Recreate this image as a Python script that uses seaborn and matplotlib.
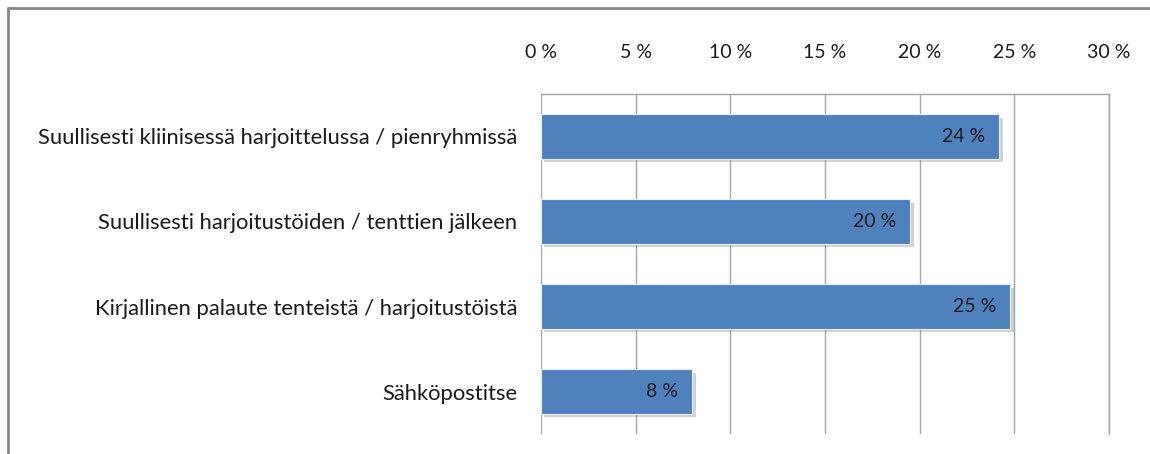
import matplotlib
matplotlib.use("Agg")
import matplotlib.pyplot as plt
import matplotlib.patheffects as pe
from matplotlib.lines import Line2D
import pandas as pd
import seaborn as sns

# data
categories = [
    "Suullisesti kliinisessä harjoittelussa / pienryhmissä",
    "Suullisesti harjoitustöiden / tenttien jälkeen",
    "Kirjallinen palaute tenteistä / harjoitustöistä",
    "Sähköpostitse",
]
values = [24.2, 19.5, 24.8, 8.0]
ticks = [0, 5, 10, 15, 20, 25, 30]
tick_labels = ["0 %", "5 %", "10 %", "15 %", "20 %", "25 %", "30 %"]

df = pd.DataFrame({"cat": categories, "val": values})

sns.set_style("white")
plt.rcParams["font.family"] = ["Lato", "DejaVu Sans"]

fig = plt.figure(figsize=(11.5, 4.54), dpi=100)
ax = fig.add_axes([0.4704, 0.044, 0.4939, 0.749])

sns.barplot(data=df, x="val", y="cat", orient="h", color="#4F81BD",
            width=0.52, saturation=1, edgecolor="#e8eef7", linewidth=0.8,
            ax=ax, zorder=3)

for bar in ax.patches:
    bar.set_path_effects([pe.SimplePatchShadow(offset=(2.5, -2.5), shadow_rgbFace="#808080", alpha=0.35),
                          pe.Normal()])

# value labels inside the bars
for i, v in enumerate(values):
    ax.text(v - 0.75, i, f"{round(v)} %", ha="right", va="center",
            fontsize=14, color="#1a1a1a", zorder=5)

ax.set_xlim(0, 30)
ax.set_ylim(3.5, -0.5)
ax.set_xticks(ticks)
ax.set_xticklabels(tick_labels)
ax.xaxis.tick_top()
ax.tick_params(axis="x", length=0, pad=24, labelsize=14, labelcolor="#1a1a1a")
ax.tick_params(axis="y", length=0, pad=17, labelsize=15.8, labelcolor="#1a1a1a")
ax.set_xlabel("")
ax.set_ylabel("")

ax.grid(axis="x", color="#a6a6a6", linewidth=1, zorder=0)
ax.set_axisbelow(True)
for s in ["bottom", "left"]:
    ax.spines[s].set_visible(False)
for s in ["top", "right"]:
    ax.spines[s].set_color("#a6a6a6")
    ax.spines[s].set_linewidth(1)

# outer frame (top and left edges)
fig.add_artist(Line2D([8 / 1150, 1], [1 - 8 / 454, 1 - 8 / 454], color="#888888", linewidth=2,
                      transform=fig.transFigure))
fig.add_artist(Line2D([8 / 1150, 8 / 1150], [0, 1 - 8 / 454], color="#888888", linewidth=2,
                      transform=fig.transFigure))

fig.savefig("out.png", dpi=100, facecolor="white")
